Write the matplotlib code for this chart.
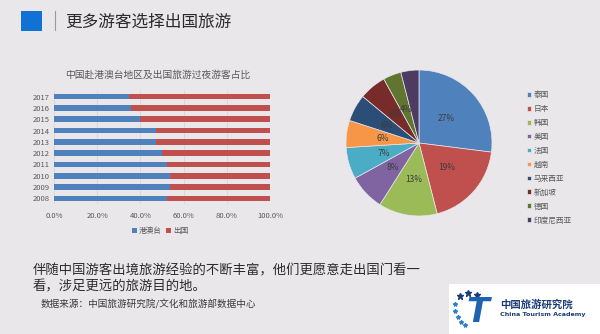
import matplotlib
matplotlib.use("Agg")
import matplotlib.pyplot as plt
from matplotlib.patches import Rectangle
from matplotlib.ticker import FuncFormatter

plt.rcParams['font.family'] = ['Noto Sans CJK SC', 'DejaVu Sans']

# bar chart data: share of overnight travellers (%)
years = ['2008', '2009', '2010', '2011', '2012', '2013', '2014', '2015', '2016', '2017']
hmt_share = [52.3, 53.9, 53.5, 52.3, 50.0, 47.2, 47.1, 39.8, 35.6, 34.9]
abroad_share = [100 - v for v in hmt_share]
bar_series = ['港澳台', '出国']

# pie chart data (%)
countries = ['泰国', '日本', '韩国', '美国', '法国', '越南', '马来西亚', '新加坡', '德国', '印度尼西亚']
country_share = [27, 19, 13, 8, 7, 6, 6, 6, 4, 4]
pie_colors = ['#4F81BD', '#C0504D', '#9BBB59', '#8064A2', '#4BACC6',
              '#F79646', '#2C4D75', '#772C2A', '#5F7530', '#4D3B62']

bg = '#E9E7EA'
W, H = 600, 334

def box(x, y, w, h):
    # pixel box (top-left origin) -> figure fraction
    return [x / W, 1 - (y + h) / H, w / W, h / H]

fig = plt.figure(figsize=(6, 3.34), dpi=100, facecolor=bg)

# header
fig.patches.append(Rectangle((21 / W, 1 - 31 / H), 21 / W, 20 / H, transform=fig.transFigure,
                             facecolor='#1172D6', edgecolor='none'))
fig.add_artist(plt.Line2D([55 / W, 55 / W], [1 - 11 / H, 1 - 30 / H], color='#9A9A9A', lw=0.8))
fig.text(65 / W, 1 - 22 / H, '更多游客选择出国旅游', fontsize=12, color='#2B2B2B', va='center')

# stacked bar chart
ax = fig.add_axes(box(54, 91, 216, 113))
ax.set_facecolor(bg)
ax.barh(years, hmt_share, height=0.5, color='#4F81BD', label=bar_series[0])
ax.barh(years, abroad_share, left=hmt_share, height=0.5, color='#C0504D', label=bar_series[1])
ax.set_xlim(0, 100)
ax.set_ylim(-0.5, len(years) - 0.5)
ax.set_xticks([0, 20, 40, 60, 80, 100])
ax.xaxis.set_major_formatter(FuncFormatter(lambda v, p: f'{v:.1f}%'))
ax.grid(axis='x', color='#D6D4D7', lw=0.6)
ax.set_axisbelow(True)
for s in ax.spines.values():
    s.set_visible(False)
ax.tick_params(length=0, labelsize=5.5, labelcolor='#595959', pad=3)
ax.tick_params(axis='x', pad=6)
fig.text(158 / W, 1 - 75 / H, '中国赴港澳台地区及出国旅游过夜游客占比', fontsize=7,
         color='#595959', ha='center', va='center')
fig.legend(*ax.get_legend_handles_labels(), loc='center', bbox_to_anchor=(160 / W, 1 - 231 / H),
           ncol=2, frameon=False, fontsize=5.5, handlelength=0.7, handleheight=0.7,
           handletextpad=0.2, columnspacing=0.6, labelcolor='#595959')

# pie chart
pax = fig.add_axes(box(346, 70, 146, 146))
shown = {'印度尼西亚': False}
pct_labels = iter([c for c in countries])
wedges, texts, autotexts = pax.pie(country_share, colors=pie_colors, startangle=90,
                                   counterclock=False,
                                   autopct=lambda p: '' if next(pct_labels) in shown else f'{p:.0f}%',
                                   pctdistance=0.5,
                                   wedgeprops=dict(edgecolor=bg, linewidth=0.5),
                                   textprops=dict(fontsize=6, color='#3A3A3A'))
pax.set_xlim(-1.0, 1.0)
pax.set_ylim(-1.0, 1.0)
fig.legend(wedges, countries, loc='upper left', bbox_to_anchor=(520 / W, 1 - 84 / H),
           frameon=False, fontsize=5.5, handlelength=0.6, handleheight=0.6,
           handletextpad=0.3, labelspacing=0.78, labelcolor='#595959')

# text
fig.text(33 / W, 1 - 270 / H, '伴随中国游客出境旅游经验的不断丰富，他们更愿意走出国门看一',
         fontsize=9.6, color='#2B2B2B', va='center')
fig.text(33 / W, 1 - 286 / H, '看，涉足更远的旅游目的地。', fontsize=9.6, color='#2B2B2B', va='center')
fig.text(41 / W, 1 - 304 / H, '数据来源：中国旅游研究院/文化和旅游部数据中心', fontsize=6.9,
         color='#3A3A3A', va='center')

# logo area
fig.patches.append(Rectangle((449 / W, 0), (W - 449) / W, (H - 284) / H, transform=fig.transFigure,
                             facecolor='white', edgecolor='none'))
fig.text(478 / W, 1 - 312 / H, 'T', fontsize=24, color='#1E63B0', fontweight='bold',
         style='italic', ha='center', va='center', family='DejaVu Sans')
big_x = [460, 468, 477]
big_y = [296, 293, 295]
small_x = [455, 455, 458, 461, 465]
small_y = [304, 311, 317, 322, 325]
fig.add_artist(plt.Line2D([v / W for v in big_x], [1 - v / H for v in big_y], ls='none',
                          marker='*', ms=5, color='#1B3D7A'))
fig.add_artist(plt.Line2D([v / W for v in small_x], [1 - v / H for v in small_y], ls='none',
                          marker='*', ms=3, color='#2E7FC8'))
fig.text(500 / W, 1 - 305 / H, '中国旅游研究院', fontsize=7.5, fontweight='bold', color='#1B3D7A',
         va='center')
fig.text(500 / W, 1 - 314.5 / H, 'China Tourism Academy', fontsize=4.6, fontweight='bold',
         color='#1B3D7A', va='center', family='DejaVu Sans')

fig.savefig('out.png', dpi=100, facecolor=bg)
